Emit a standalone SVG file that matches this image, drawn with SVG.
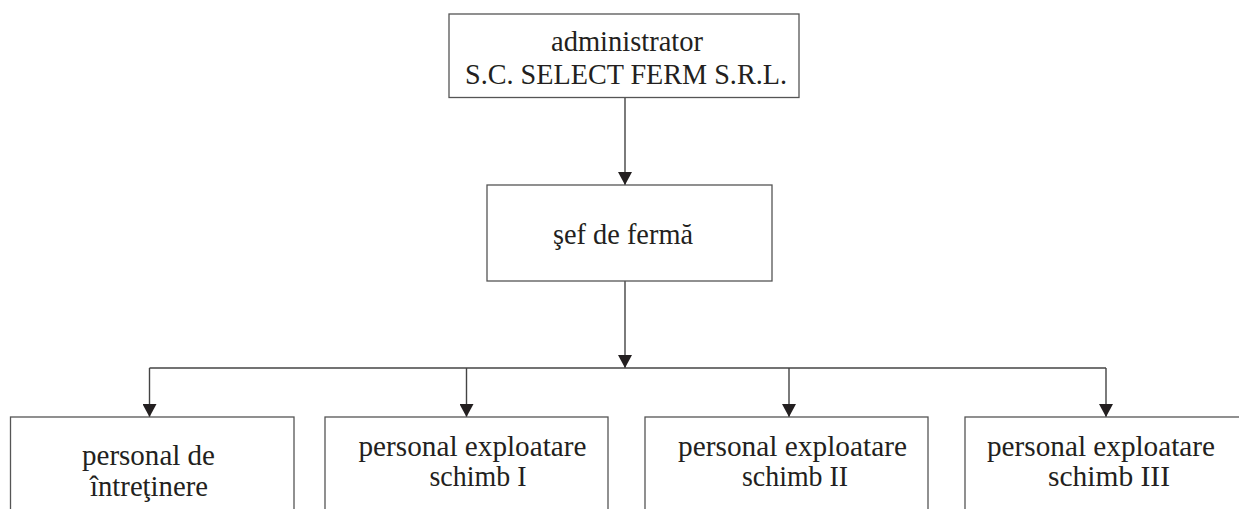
<svg xmlns="http://www.w3.org/2000/svg" width="1239" height="509" viewBox="0 0 1239 509">
<style>
.box{fill:#ffffff;stroke:#555555;stroke-width:1.3}
.lbl{font-family:"Liberation Serif","Times New Roman",serif;font-size:29px;fill:#231f20;text-anchor:middle}
.con{fill:none;stroke:#444444;stroke-width:1.4}
</style>
<defs>
<marker id="arr" markerUnits="userSpaceOnUse" markerWidth="14" markerHeight="14" refX="13" refY="7" orient="auto">
<path d="M0,0 L13,7 L0,14 Z" fill="#231f20"/>
</marker>
</defs>
<rect width="1239" height="509" fill="#ffffff"/>
<g id="connectors">
<line class="con" x1="625" y1="97.5" x2="625" y2="185" marker-end="url(#arr)"/>
<line class="con" x1="625" y1="281" x2="625" y2="368" marker-end="url(#arr)"/>
<line class="con" x1="149.5" y1="368" x2="1106" y2="368"/>
<line class="con" x1="149.5" y1="368" x2="149.5" y2="417" marker-end="url(#arr)"/>
<line class="con" x1="466.5" y1="368" x2="466.5" y2="417" marker-end="url(#arr)"/>
<line class="con" x1="789" y1="368" x2="789" y2="417" marker-end="url(#arr)"/>
<line class="con" x1="1106" y1="368" x2="1106" y2="417" marker-end="url(#arr)"/>
</g>
<g id="admin">
<rect class="box" x="449" y="14" width="350" height="83.5"/>
<text class="lbl" x="627" y="51" textLength="152" lengthAdjust="spacingAndGlyphs">administrator</text>
<text class="lbl" x="626" y="84" textLength="322" lengthAdjust="spacingAndGlyphs">S.C. SELECT FERM S.R.L.</text>
</g>
<g id="sef">
<rect class="box" x="487" y="185" width="285" height="96"/>
<text class="lbl" x="623" y="244" textLength="140" lengthAdjust="spacingAndGlyphs">şef de fermă</text>
</g>
<g id="intretinere">
<rect class="box" x="10.5" y="417" width="283.5" height="110"/>
<text class="lbl" x="148.5" y="465" textLength="133" lengthAdjust="spacingAndGlyphs">personal de</text>
<text class="lbl" x="149" y="496" textLength="118" lengthAdjust="spacingAndGlyphs">întreţinere</text>
</g>
<g id="schimb1">
<rect class="box" x="325" y="417" width="283" height="110"/>
<text class="lbl" x="472.5" y="456" textLength="228" lengthAdjust="spacingAndGlyphs">personal exploatare</text>
<text class="lbl" x="478" y="486" textLength="97" lengthAdjust="spacingAndGlyphs">schimb I</text>
</g>
<g id="schimb2">
<rect class="box" x="645" y="417" width="283" height="110"/>
<text class="lbl" x="792.5" y="456" textLength="229" lengthAdjust="spacingAndGlyphs">personal exploatare</text>
<text class="lbl" x="795" y="486" textLength="106" lengthAdjust="spacingAndGlyphs">schimb II</text>
</g>
<g id="schimb3">
<rect class="box" x="965" y="417" width="283" height="110"/>
<text class="lbl" x="1101" y="456" textLength="228" lengthAdjust="spacingAndGlyphs">personal exploatare</text>
<text class="lbl" x="1109" y="486" textLength="122" lengthAdjust="spacingAndGlyphs">schimb III</text>
</g>
</svg>
